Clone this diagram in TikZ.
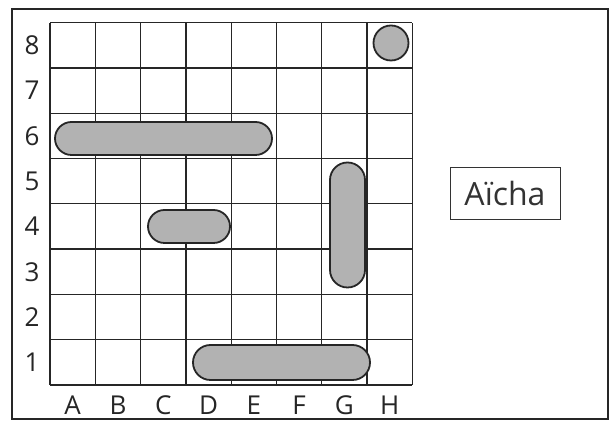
\documentclass[tikz,border=0pt]{standalone}
\usepackage{fontspec}
\setmainfont{Open Sans}
\begin{document}
\begin{tikzpicture}[x=1pt,y=1pt,
  gridline/.style={line width=1.3pt,black!85},
  ship/.style={draw=black!85,line width=1.8pt,fill=black!30,inner sep=0pt},
  lbl/.style={font=\fontsize{26}{28}\selectfont,text=black!85,inner sep=0pt},
  namebox/.style={draw=black!80,line width=1pt,minimum width=110pt,minimum height=52pt,font=\fontsize{32}{34}\selectfont,text=black!80}]
\useasboundingbox (0,0) rectangle (616,422);
\fill[white] (0,0) rectangle (616,422);
% outer frame
\draw[line width=1.5pt,black!85] (12,3) rectangle (608,413);
% grid
\def\cs{45.3}
\foreach \i in {0,...,8} {
  \draw[gridline] (50+\i*\cs,37) -- (50+\i*\cs,37+8*\cs);
  \draw[gridline] (50,37+\i*\cs) -- (50+8*\cs,37+\i*\cs);
}
% row labels
\foreach \r in {1,...,8} {
  \node[lbl] (row\r) at (32,37+\r*\cs-0.5*\cs) {\r};
}
% column labels
\foreach \c [count=\k] in {A,B,C,D,E,F,G,H} {
  \node[lbl] (col\c) at (50+\k*\cs-0.5*\cs,17) {\c};
}
% ships
\node[ship,rounded corners=16.5pt,minimum width=217pt,minimum height=33pt] (shipA) at (163.5,283.5) {};
\node[ship,rounded corners=16.5pt,minimum width=82pt,minimum height=33pt] (shipB) at (189,195.5) {};
\node[ship,rounded corners=17.5pt,minimum width=35pt,minimum height=125pt] (shipC) at (347.5,197) {};
\node[ship,rounded corners=17.5pt,minimum width=177pt,minimum height=35pt] (shipD) at (281.5,59.5) {};
\node[ship,circle,minimum size=35pt] (shipE) at (391,379) {};
% name box
\node[namebox] (name) at (505,228) {Aïcha};
\end{tikzpicture}
\end{document}
